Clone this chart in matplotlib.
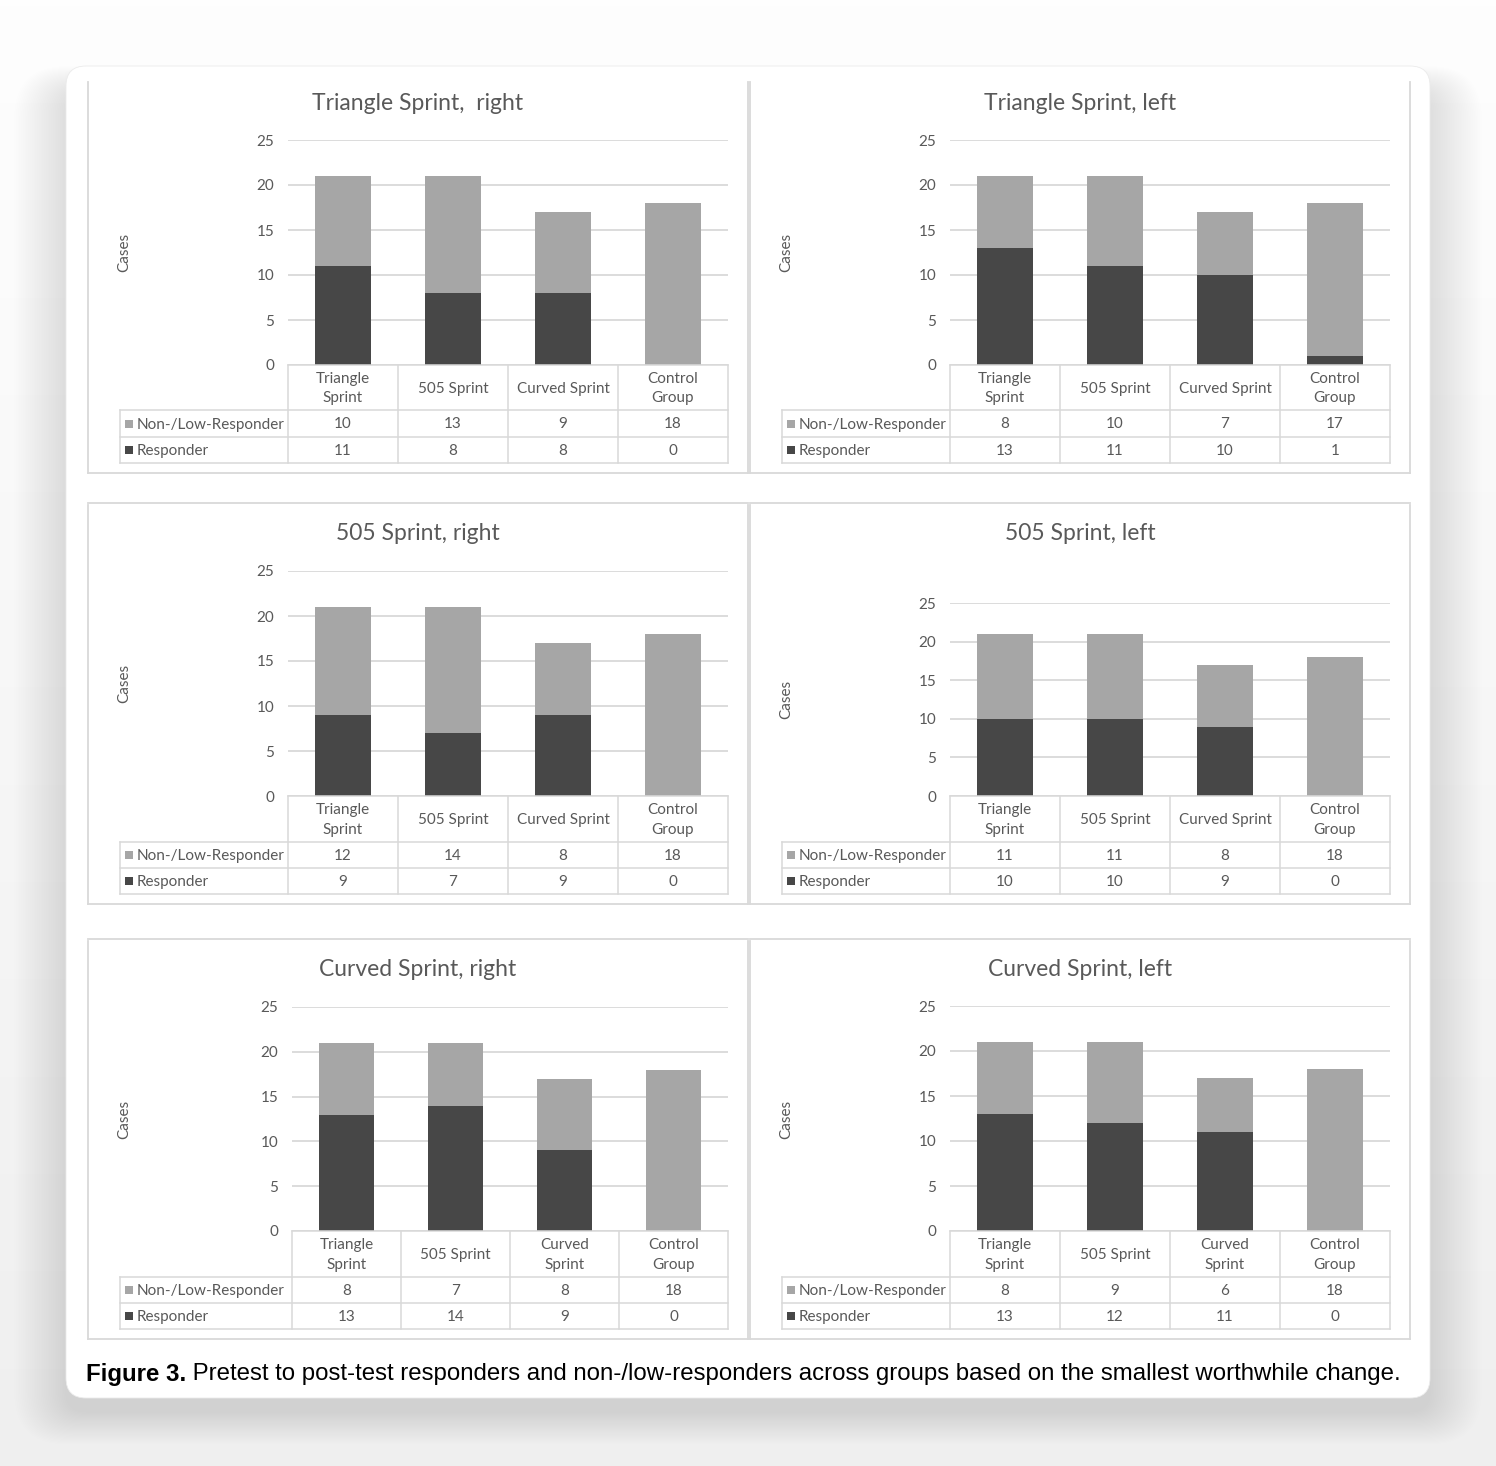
import matplotlib
matplotlib.use('Agg')
import matplotlib.pyplot as plt
from matplotlib.patches import FancyBboxPatch, Rectangle
from matplotlib.lines import Line2D
import numpy as np

W, H, DPI = 1496, 1466, 100

# ---------------- data ----------------
categories = ["Triangle Sprint", "505 Sprint", "Curved Sprint", "Control Group"]
header_labels_wide = ["Triangle\nSprint", "505 Sprint", "Curved Sprint", "Control\nGroup"]
header_labels_narrow = ["Triangle\nSprint", "505 Sprint", "Curved\nSprint", "Control\nGroup"]
series_names = ["Non-/Low-Responder", "Responder"]
panel_titles = ["Triangle Sprint,  right", "Triangle Sprint, left",
                "505 Sprint, right", "505 Sprint, left",
                "Curved Sprint, right", "Curved Sprint, left"]

nonlow_triangle_right = [10, 13, 9, 18]
resp_triangle_right = [11, 8, 8, 0]
nonlow_triangle_left = [8, 10, 7, 17]
resp_triangle_left = [13, 11, 10, 1]
nonlow_505_right = [12, 14, 8, 18]
resp_505_right = [9, 7, 9, 0]
nonlow_505_left = [11, 11, 8, 18]
resp_505_left = [10, 10, 9, 0]
nonlow_curved_right = [8, 7, 8, 18]
resp_curved_right = [13, 14, 9, 0]
nonlow_curved_left = [8, 9, 6, 18]
resp_curved_left = [13, 12, 11, 0]

y_ticks = [0, 5, 10, 15, 20, 25]
y_label = "Cases"
caption_bold = "Figure 3."
caption_rest = " Pretest to post-test responders and non-/low-responders across groups based on the smallest worthwhile change."

nonlow_series = [nonlow_triangle_right, nonlow_triangle_left, nonlow_505_right,
                 nonlow_505_left, nonlow_curved_right, nonlow_curved_left]
resp_series = [resp_triangle_right, resp_triangle_left, resp_505_right,
               resp_505_left, resp_curved_right, resp_curved_left]

# ---------------- layout (pixels, top-left origin) ----------------
layouts = [
    dict(box=(88, 80, 748, 473), px=(288, 728), y0=365, y25=140, rows=(410, 437, 463), lab=120, ty=103, cy=252, hdr=header_labels_wide, top=False),
    dict(box=(750, 80, 1410, 473), px=(950, 1390), y0=365, y25=140, rows=(410, 437, 463), lab=782, ty=103, cy=252, hdr=header_labels_wide, top=False),
    dict(box=(88, 503, 748, 904), px=(288, 728), y0=796, y25=571, rows=(842, 868, 894), lab=120, ty=534, cy=683, hdr=header_labels_wide, top=True),
    dict(box=(750, 503, 1410, 904), px=(950, 1390), y0=796, y25=603, rows=(842, 868, 894), lab=782, ty=534, cy=699, hdr=header_labels_wide, top=True),
    dict(box=(88, 939, 748, 1339), px=(292, 728), y0=1231, y25=1007, rows=(1277, 1303, 1329), lab=120, ty=970, cy=1119, hdr=header_labels_narrow, top=True),
    dict(box=(750, 939, 1410, 1339), px=(950, 1390), y0=1231, y25=1006, rows=(1277, 1303, 1329), lab=782, ty=970, cy=1119, hdr=header_labels_narrow, top=True),
]

DARK = "#474747"
LIGHT = "#a6a6a6"
GRID = "#d9d9d9"
TXT = "#595959"
FONT = ["Lato", "DejaVu Sans"]

fig = plt.figure(figsize=(W / DPI, H / DPI), dpi=DPI)
fig.patch.set_facecolor("#f4f4f4")
T = fig.dpi_scale_trans


def P(x, y):
    return (x / DPI, (H - y) / DPI)


def line(x0, y0, x1, y1, color=GRID, lw=1.1, z=5):
    a, b = P(x0, y0)
    c, d = P(x1, y1)
    fig.add_artist(Line2D([a, c], [b, d], transform=T, color=color, lw=lw, zorder=z))


def text(x, y, s, **kw):
    a, b = P(x, y)
    return fig.text(a, b, s, transform=T, **kw)


# background gradient
grad_ax = fig.add_axes([0, 0, 1, 1], zorder=-10)
g = np.linspace(0, 1, 256).reshape(-1, 1)
grad_ax.imshow(g, cmap=matplotlib.colors.LinearSegmentedColormap.from_list("bg", ["#fefefe", "#efefef"]),
               aspect="auto", extent=[0, 1, 0, 1], origin="upper")
grad_ax.axis("off")

# soft shadow layers
for i in range(30):
    grow = 1 + i * 2.2
    x0, y0 = P(66 - grow * 0.8, 1398 + 14 + grow * 0.5)
    w = (1364 + 1.6 * grow) / DPI
    h = (1320 + grow * 0.9) / DPI
    fig.add_artist(FancyBboxPatch((x0, y0), w, h,
                                  boxstyle="round,pad=0,rounding_size=%f" % (0.2 + grow / 200),
                                  transform=T, facecolor="#000000", edgecolor="none",
                                  alpha=0.0055, zorder=-5))

# white card
x0, y0 = P(66, 1398)
fig.add_artist(FancyBboxPatch((x0, y0), 1364 / DPI, 1332 / DPI,
                              boxstyle="round,pad=0,rounding_size=0.2",
                              transform=T, facecolor="white", edgecolor="#ebebeb",
                              lw=0.6, zorder=-4))

for k, L in enumerate(layouts):
    nonlow = nonlow_series[k]
    resp = resp_series[k]
    bx0, by0, bx1, by1 = L["box"]
    line(bx0, by0 + 2, bx0, by1, lw=1.3)
    line(bx1, by0 + 2, bx1, by1, lw=1.3)
    line(bx0, by1, bx1, by1, lw=1.3)
    if L["top"]:
        line(bx0, by0, bx1, by0, lw=1.3)

    px0, px1 = L["px"]
    y0p, y25p = L["y0"], L["y25"]
    ax = fig.add_axes([px0 / W, 1 - y0p / H, (px1 - px0) / W, (y0p - y25p) / H])
    x = np.arange(len(categories))
    ax.bar(x, resp, width=0.51, color=DARK, zorder=3)
    ax.bar(x, nonlow, bottom=resp, width=0.51, color=LIGHT, zorder=3)
    ax.set_xlim(-0.5, len(categories) - 0.5)
    ax.set_ylim(0, 25)
    ax.set_yticks(y_ticks)
    ax.set_xticks([])
    ax.yaxis.grid(True, color=GRID, lw=1.3)
    ax.set_axisbelow(True)
    for s in ax.spines.values():
        s.set_visible(False)
    ax.tick_params(axis="y", length=0, pad=10, labelsize=11, labelcolor=TXT)
    for lbl in ax.get_yticklabels():
        lbl.set_family(FONT)
    ax.patch.set_alpha(0)

    text((bx0 + bx1) / 2, L["ty"], panel_titles[k], ha="center", va="center",
         fontsize=16.5, color=TXT, family=FONT)
    text(bx0 + 36, L["cy"], y_label, ha="center", va="center", rotation=90,
         fontsize=11, color=TXT, family=FONT)

    yh, yr1, yr2 = L["rows"]
    lab = L["lab"]
    n = len(categories)
    cb = [px0 + i * (px1 - px0) / n for i in range(n + 1)]
    for c in cb:
        line(c, y0p, c, yr2)
    line(lab, yh, lab, yr2)
    line(px0, y0p, px1, y0p)
    for yy in (yh, yr1, yr2):
        line(lab, yy, px1, yy)
    for i in range(n):
        cx = (cb[i] + cb[i + 1]) / 2
        text(cx, (y0p + yh) / 2 + 1, L["hdr"][i], ha="center", va="center",
             fontsize=11, color=TXT, family=FONT, linespacing=1.5)
        text(cx, (yh + yr1) / 2 + 1, str(nonlow[i]), ha="center", va="center",
             fontsize=11, color=TXT, family=FONT)
        text(cx, (yr1 + yr2) / 2 + 1, str(resp[i]), ha="center", va="center",
             fontsize=11, color=TXT, family=FONT)
    for j, (yy0, yy1, col) in enumerate([(yh, yr1, LIGHT), (yr1, yr2, DARK)]):
        ym = (yy0 + yy1) / 2
        sx, sy = P(lab + 5, ym + 4)
        fig.add_artist(Rectangle((sx, sy), 8 / DPI, 8 / DPI, transform=T,
                                 facecolor=col, edgecolor="none"))
        text(lab + 17, ym + 1, series_names[j], ha="left", va="center",
             fontsize=11, color=TXT, family=FONT)

# caption
renderer = fig.canvas.get_renderer()
cap_fs = 17
tb = text(86, 1374, caption_bold, ha="left", va="center", fontsize=cap_fs,
          fontweight="bold", color="black", family=["Liberation Sans", "DejaVu Sans"])
tr = text(86, 1374, caption_rest, ha="left", va="center", fontsize=cap_fs,
          color="black", family=["Liberation Sans", "DejaVu Sans"])
wb = tb.get_window_extent(renderer).width
wr = tr.get_window_extent(renderer).width
scale = 1317 / (wb + wr)
cap_fs *= scale
tb.set_fontsize(cap_fs)
tr.set_fontsize(cap_fs)
wb = tb.get_window_extent(renderer).width
tr.set_position(P(86 + wb, 1374))

fig.savefig("out.png", dpi=DPI)
